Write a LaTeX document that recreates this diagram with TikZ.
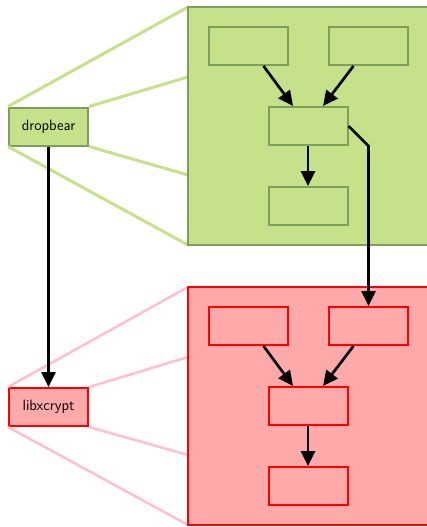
\documentclass[tikz,border=0pt]{standalone}
\usetikzlibrary{arrows.meta,calc}
\definecolor{gfill}{HTML}{C5E28A}
\definecolor{gline}{HTML}{7E9F5C}
\definecolor{glink}{HTML}{C5E28A}
\definecolor{rfill}{HTML}{FFAAAA}
\definecolor{rline}{HTML}{FF0000}
\definecolor{rlink}{HTML}{FFC0CB}
\tikzset{
  gbox/.style={draw=gline, fill=gfill, line width=2pt, minimum width=79pt, minimum height=38pt, inner sep=0pt},
  rbox/.style={draw=rline, fill=rfill, line width=2pt, minimum width=79pt, minimum height=38pt, inner sep=0pt},
  glinkst/.style={draw=glink, line width=3pt},
  rlinkst/.style={draw=rlink, line width=2.5pt},
  arr/.style={line width=2.7pt, -{Triangle[length=15pt,width=14pt]}},
  lbl/.style={font=\sffamily\fontsize{15}{18}\selectfont}
}
\begin{document}
\begin{tikzpicture}[x=1pt,y=-1pt]
\useasboundingbox (0,0) rectangle (427,527);
\clip (0,0) rectangle (427,527);
% zoom links
\coordinate (g1) at (188,7);
\coordinate (g2) at (188,77);
\coordinate (g3) at (188,175);
\coordinate (g4) at (188,245);
\coordinate (r1) at (188,287);
\coordinate (r2) at (188,357);
\coordinate (r3) at (188,455);
\coordinate (r4) at (188,525);
\node[gbox, lbl, text=black] (db) at (48.5,126.5) {dropbear};
\node[rbox, lbl, text=black, draw=rline] (lx) at (48.5,407) {libxcrypt};
\draw[glinkst] (db.north west) -- (g1);
\draw[glinkst] (db.north east) -- (g2);
\draw[glinkst] (db.south east) -- (g3);
\draw[glinkst] (db.south west) -- (g4);
\draw[rlinkst] (lx.north west) -- (r1);
\draw[rlinkst] (lx.north east) -- (r2);
\draw[rlinkst] (lx.south east) -- (r3);
\draw[rlinkst] (lx.south west) -- (r4);
% big boxes
\draw[draw=gline, fill=gfill, line width=2pt] (188,7) rectangle (445,245);
\draw[draw=rline, fill=rfill, line width=2pt] (188,287) rectangle (445,525);
% inner green
\node[gbox] (gtl) at (248.5,46) {};
\node[gbox] (gtr) at (368.5,46) {};
\node[gbox] (gm) at (308,126) {};
\node[gbox] (gb) at (308,206) {};
% inner red
\node[rbox] (rtl) at (248.5,326) {};
\node[rbox] (rtr) at (368.5,326) {};
\node[rbox] (rm) at (308,406) {};
\node[rbox] (rb) at (308,486) {};
% arrows
\draw[arr] ([xshift=15pt]gtl.south) -- ([xshift=-15pt]gm.north);
\draw[arr] ([xshift=-15pt]gtr.south) -- ([xshift=15pt]gm.north);
\draw[arr] (gm.south) -- (gb.north);
\draw[arr] ([xshift=15pt]rtl.south) -- ([xshift=-15pt]rm.north);
\draw[arr] ([xshift=-15pt]rtr.south) -- ([xshift=15pt]rm.north);
\draw[arr] (rm.south) -- (rb.north);
\draw[arr] (gm.east) -- ($(rtr.north |- gm.east)+(0,20)$) -- (rtr.north);
\draw[arr] (db.south) -- (lx.north);
\end{tikzpicture}
\end{document}
